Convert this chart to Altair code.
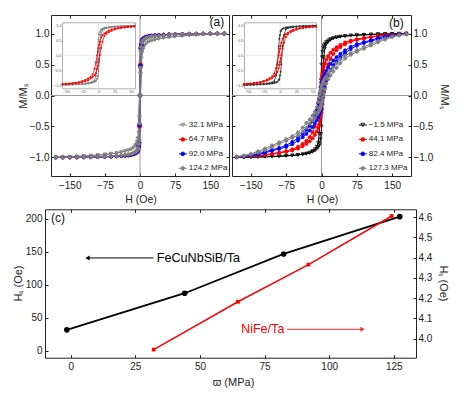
import altair as alt
import pandas as pd

FONT = "Liberation Sans"
W, HT = 447, 382  # drawing size (page minus the 8px margins)

# ---------------------------------------------------------------- data
# main loops: field sweep grid (Oe), M/Ms on descending and ascending branches
H_GRID = [180, 165, 150, 135, 120, 105, 90, 75, 62, 50, 40, 32, 25, 19, 14, 10, 7, 5, 3.5, 2, 1, 0,
          -1, -2, -3.5, -5, -7, -10, -14, -19, -25, -32, -40, -50, -62, -75, -90, -105, -120, -135,
          -150, -165, -180]

A_SERIES = ["32.1 MPa", "64.7 MPa", "92.0 MPa", "124.2 MPa"]
A_STROKE = ["#808080", "#ff0000", "#0000ff", "#808080"]
A_FILL = ["transparent", "#ff0000", "#0000ff", "#808080"]
A_SHAPE = ["triangle-down", "circle", "circle", "cross"]
A_DESC = [
    [0.998, 0.995, 0.99, 0.985, 0.978, 0.97, 0.962, 0.952, 0.942, 0.93, 0.915, 0.9, 0.886, 0.872, 0.85,
     0.815, 0.78, 0.745, 0.70, 0.62, 0.55, 0.35, 0.0, -0.35, -0.6, -0.69, -0.745, -0.8, -0.84, -0.867,
     -0.883, -0.898, -0.913, -0.928, -0.94, -0.951, -0.961, -0.969, -0.977, -0.984, -0.99, -0.995, -0.998],
    [1.0, 1.0, 0.999, 0.998, 0.997, 0.995, 0.993, 0.99, 0.986, 0.982, 0.977, 0.972, 0.967, 0.959, 0.95,
     0.938, 0.925, 0.91, 0.89, 0.84, 0.78, 0.5, 0.0, -0.5, -0.83, -0.885, -0.91, -0.93, -0.946, -0.957,
     -0.965, -0.971, -0.977, -0.982, -0.986, -0.99, -0.993, -0.995, -0.997, -0.998, -0.999, -1.0, -1.0],
    [1.0, 1.0, 0.999, 0.998, 0.996, 0.994, 0.992, 0.989, 0.985, 0.981, 0.976, 0.97, 0.965, 0.957, 0.947,
     0.935, 0.92, 0.905, 0.88, 0.82, 0.76, 0.48, 0.0, -0.48, -0.81, -0.875, -0.905, -0.928, -0.943, -0.955,
     -0.963, -0.969, -0.975, -0.98, -0.985, -0.989, -0.992, -0.994, -0.996, -0.998, -0.999, -1.0, -1.0],
    [1.0, 0.999, 0.998, 0.997, 0.995, 0.993, 0.99, 0.986, 0.981, 0.975, 0.968, 0.962, 0.955, 0.945, 0.933,
     0.918, 0.9, 0.88, 0.85, 0.78, 0.72, 0.45, 0.0, -0.45, -0.78, -0.86, -0.89, -0.912, -0.928, -0.941,
     -0.952, -0.96, -0.968, -0.975, -0.98, -0.986, -0.99, -0.993, -0.995, -0.997, -0.998, -0.999, -1.0],
]
A_ASC = [
    [0.998, 0.995, 0.99, 0.984, 0.977, 0.969, 0.961, 0.951, 0.94, 0.928, 0.913, 0.898, 0.883, 0.867, 0.84,
     0.8, 0.745, 0.69, 0.6, 0.35, 0.0, -0.35, -0.55, -0.62, -0.70, -0.745, -0.78, -0.815, -0.85, -0.872,
     -0.886, -0.9, -0.915, -0.93, -0.942, -0.952, -0.962, -0.97, -0.978, -0.985, -0.99, -0.995, -0.998],
    [1.0, 1.0, 0.999, 0.998, 0.997, 0.995, 0.993, 0.99, 0.986, 0.982, 0.977, 0.971, 0.965, 0.957, 0.946,
     0.93, 0.91, 0.885, 0.83, 0.5, 0.0, -0.5, -0.78, -0.84, -0.89, -0.91, -0.925, -0.938, -0.95, -0.959,
     -0.967, -0.972, -0.977, -0.982, -0.986, -0.99, -0.993, -0.995, -0.997, -0.998, -0.999, -1.0, -1.0],
    [1.0, 1.0, 0.999, 0.998, 0.996, 0.994, 0.992, 0.989, 0.985, 0.98, 0.975, 0.969, 0.963, 0.955, 0.943,
     0.928, 0.905, 0.875, 0.81, 0.48, 0.0, -0.48, -0.76, -0.82, -0.88, -0.905, -0.92, -0.935, -0.947, -0.957,
     -0.965, -0.97, -0.976, -0.981, -0.985, -0.989, -0.992, -0.994, -0.996, -0.998, -0.999, -1.0, -1.0],
    [1.0, 0.999, 0.998, 0.997, 0.995, 0.993, 0.99, 0.986, 0.98, 0.975, 0.968, 0.96, 0.952, 0.941, 0.928,
     0.912, 0.89, 0.86, 0.78, 0.45, 0.0, -0.45, -0.72, -0.78, -0.85, -0.88, -0.9, -0.918, -0.933, -0.945,
     -0.955, -0.962, -0.968, -0.975, -0.981, -0.986, -0.99, -0.993, -0.995, -0.997, -0.998, -0.999, -1.0],
]

B_SERIES = ["\u22121.5 MPa", "44.1 MPa", "82.4 MPa", "127.3 MPa"]
B_STROKE = ["#000000", "#ff0000", "#0000ff", "#808080"]
B_FILL = ["transparent", "#ff0000", "#0000ff", "#808080"]
B_SHAPE = ["triangle-down", "circle", "circle", "cross"]
B_DESC = [
    [1.0, 0.998, 0.996, 0.993, 0.99, 0.986, 0.981, 0.975, 0.969, 0.961, 0.952, 0.942, 0.929, 0.912, 0.892,
     0.865, 0.837, 0.81, 0.777, 0.707, 0.62, 0.5, 0.25, 0.0, -0.375, -0.62, -0.76, -0.827, -0.865, -0.895,
     -0.919, -0.936, -0.948, -0.958, -0.967, -0.974, -0.98, -0.985, -0.99, -0.993, -0.996, -0.998, -1.0],
    [0.997, 0.991, 0.984, 0.975, 0.963, 0.949, 0.93, 0.91, 0.888, 0.857, 0.818, 0.78, 0.739, 0.69, 0.636,
     0.58, 0.52, 0.47, 0.425, 0.365, 0.32, 0.27, 0.21, 0.14, 0.035, -0.07, -0.21, -0.365, -0.5, -0.594,
     -0.67, -0.731, -0.78, -0.827, -0.869, -0.897, -0.92, -0.94, -0.956, -0.969, -0.98, -0.988, -0.995],
    [0.996, 0.987, 0.974, 0.955, 0.928, 0.894, 0.863, 0.83, 0.786, 0.73, 0.674, 0.62, 0.564, 0.51, 0.456,
     0.4, 0.35, 0.31, 0.282, 0.24, 0.21, 0.17, 0.13, 0.09, 0.022, -0.045, -0.13, -0.24, -0.33, -0.414,
     -0.49, -0.556, -0.62, -0.686, -0.75, -0.804, -0.846, -0.877, -0.911, -0.942, -0.965, -0.981, -0.992],
    [0.992, 0.979, 0.957, 0.924, 0.882, 0.833, 0.783, 0.733, 0.685, 0.644, 0.584, 0.52, 0.454, 0.403, 0.36,
     0.31, 0.277, 0.243, 0.222, 0.188, 0.165, 0.135, 0.105, 0.07, 0.018, -0.035, -0.105, -0.188, -0.26, -0.322,
     -0.387, -0.446, -0.52, -0.596, -0.657, -0.705, -0.757, -0.807, -0.857, -0.903, -0.942, -0.969, -0.986],
]
B_ASC = [
    [1.0, 0.998, 0.996, 0.993, 0.99, 0.985, 0.98, 0.974, 0.967, 0.958, 0.948, 0.936, 0.919, 0.895, 0.865,
     0.827, 0.76, 0.62, 0.375, 0.0, -0.25, -0.5, -0.62, -0.707, -0.777, -0.81, -0.837, -0.865, -0.892, -0.912,
     -0.929, -0.942, -0.952, -0.961, -0.969, -0.975, -0.981, -0.986, -0.99, -0.993, -0.996, -0.998, -1.0],
    [0.995, 0.988, 0.98, 0.969, 0.956, 0.94, 0.92, 0.897, 0.869, 0.827, 0.78, 0.731, 0.67, 0.594, 0.5,
     0.365, 0.21, 0.07, -0.035, -0.14, -0.21, -0.27, -0.32, -0.365, -0.425, -0.47, -0.52, -0.58, -0.636, -0.69,
     -0.739, -0.78, -0.818, -0.857, -0.888, -0.91, -0.93, -0.949, -0.963, -0.975, -0.984, -0.991, -0.997],
    [0.992, 0.981, 0.965, 0.942, 0.911, 0.877, 0.846, 0.804, 0.75, 0.686, 0.62, 0.556, 0.49, 0.414, 0.33,
     0.24, 0.13, 0.045, -0.022, -0.09, -0.13, -0.17, -0.21, -0.24, -0.282, -0.31, -0.35, -0.4, -0.456, -0.51,
     -0.564, -0.62, -0.674, -0.73, -0.786, -0.83, -0.863, -0.894, -0.928, -0.955, -0.974, -0.987, -0.996],
    [0.986, 0.969, 0.942, 0.903, 0.857, 0.807, 0.757, 0.705, 0.657, 0.596, 0.52, 0.446, 0.387, 0.322, 0.26,
     0.188, 0.105, 0.035, -0.018, -0.07, -0.105, -0.135, -0.165, -0.188, -0.222, -0.243, -0.277, -0.31, -0.36,
     -0.403, -0.454, -0.52, -0.584, -0.644, -0.685, -0.733, -0.783, -0.833, -0.882, -0.924, -0.957, -0.979, -0.992],
]

# insets: zoom of the low-field region
INSET_H = [55, 50, 45, 40, 35, 30, 25, 20, 16, 12, 9, 6, 4, 2, 1, 0, -1, -2, -4, -6, -9, -12, -16, -20,
           -25, -30, -35, -40, -45, -50, -55]
IA_SERIES = ["gray loop", "red loop"]
IA_COLORS = ["#808080", "#ff0000"]
IA_DESC = [
    [0.984, 0.981, 0.978, 0.974, 0.969, 0.963, 0.956, 0.947, 0.939, 0.926, 0.91, 0.885, 0.86, 0.78, 0.69,
     0.525, 0.2, -0.2, -0.69, -0.83, -0.885, -0.905, -0.928, -0.941, -0.952, -0.96, -0.966, -0.972, -0.976,
     -0.979, -0.982],
    [0.965, 0.958, 0.949, 0.939, 0.926, 0.911, 0.89, 0.862, 0.83, 0.772, 0.727, 0.667, 0.6, 0.45, 0.345,
     0.24, 0.12, 0.0, -0.24, -0.45, -0.64, -0.72, -0.775, -0.82, -0.862, -0.895, -0.914, -0.929, -0.941,
     -0.951, -0.959],
]
IA_ASC = [
    [0.982, 0.979, 0.976, 0.972, 0.966, 0.96, 0.952, 0.941, 0.928, 0.905, 0.885, 0.83, 0.69, 0.2, -0.2,
     -0.525, -0.69, -0.78, -0.86, -0.885, -0.91, -0.926, -0.939, -0.947, -0.956, -0.963, -0.969, -0.974,
     -0.978, -0.981, -0.984],
    [0.959, 0.951, 0.941, 0.929, 0.914, 0.895, 0.862, 0.82, 0.775, 0.72, 0.64, 0.45, 0.24, 0.0, -0.12,
     -0.24, -0.345, -0.45, -0.6, -0.667, -0.727, -0.772, -0.83, -0.862, -0.89, -0.911, -0.926, -0.939,
     -0.949, -0.958, -0.965],
]
IB_SERIES = ["black loop", "red loop"]
IB_COLORS = ["#333333", "#ff0000"]
IB_DESC = [
    [0.988, 0.986, 0.983, 0.979, 0.975, 0.969, 0.964, 0.956, 0.948, 0.936, 0.925, 0.905, 0.882, 0.835, 0.8,
     0.675, 0.55, 0.3, -0.3, -0.675, -0.87, -0.905, -0.929, -0.943, -0.954, -0.963, -0.969, -0.974, -0.978,
     -0.982, -0.985],
    [0.962, 0.955, 0.946, 0.935, 0.921, 0.905, 0.882, 0.85, 0.81, 0.755, 0.7, 0.63, 0.56, 0.42, 0.32,
     0.22, 0.11, 0.0, -0.22, -0.42, -0.61, -0.7, -0.765, -0.81, -0.855, -0.89, -0.91, -0.926, -0.938,
     -0.948, -0.957],
]
IB_ASC = [
    [0.985, 0.982, 0.978, 0.974, 0.969, 0.963, 0.954, 0.943, 0.929, 0.905, 0.87, 0.675, 0.3, -0.3, -0.55,
     -0.675, -0.8, -0.835, -0.882, -0.905, -0.925, -0.936, -0.948, -0.956, -0.964, -0.969, -0.975, -0.979,
     -0.983, -0.986, -0.988],
    [0.957, 0.948, 0.938, 0.926, 0.91, 0.89, 0.855, 0.81, 0.765, 0.7, 0.61, 0.42, 0.22, 0.0, -0.11,
     -0.22, -0.32, -0.42, -0.56, -0.63, -0.7, -0.755, -0.81, -0.85, -0.882, -0.905, -0.921, -0.935,
     -0.946, -0.955, -0.962],
]

# panel (c): saturation field vs stress
FE_STRESS = [-1.5, 44.1, 82.4, 127.3]
FE_HS = [32, 87.5, 147, 203.5]
NI_STRESS = [32.1, 64.7, 92.0, 124.2]
NI_HS = [3.946, 4.182, 4.365, 4.605]

TICKS_H = [-150, -75, 0, 75, 150]
TICKS_M = [-1.0, -0.5, 0.0, 0.5, 1.0]
TICKS_IH = [-50, -25, 0, 25, 50]
TICKS_S = [0, 25, 50, 75, 100, 125]
TICKS_FE = [0, 50, 100, 150, 200]
TICKS_NI = [4.0, 4.1, 4.2, 4.3, 4.4, 4.5, 4.6]

# ---------------------------------------------------------------- layout (pixels in drawing)
XA, XB, YAB = [43, 221], [224, 403], [168, 7]
XIA, XIB, YI = [54, 127], [236, 308], [80.3, 14.3]
XC, YC = [37, 408], [349.7, 201.3]
DOM_H, DOM_M = [-190, 190], [-1.3, 1.3]
DOM_IHA, DOM_IHB, DOM_IM = [-56, 56], [-55, 55], [-1.1, 1.1]
DOM_S, DOM_FE, DOM_NI = [-9.95, 133.6], [-10.2, 214.7], [3.906, 4.638]
PT_SIZE = 10


def lin(domain, rng):
    return alt.Scale(domain=domain, range=rng, nice=False, zero=False)


def axis(orient, pos, labels=False, values=None, fmt=None, pad=2, title=None, tx=0, ty=0,
         domain=True, ticks=False, dcolor="#222222", lcolor="#222222", lsize=10, tsize=11, angle=None):
    if orient in ("left", "top"):
        offset = -pos
    elif orient == "right":
        offset = pos - W
    else:
        offset = pos - HT
    kw = dict(orient=orient, offset=offset, grid=False, labels=labels, ticks=ticks, domain=domain,
              domainColor=dcolor, domainWidth=1, tickColor=dcolor, labelColor=lcolor, labelFont=FONT,
              labelFontSize=lsize, labelPadding=pad, labelOverlap=False, labelFlush=False)
    if values is not None:
        kw["values"] = values
    if ticks:
        kw["tickSize"] = 3
        kw["tickWidth"] = 1
    if fmt:
        kw["format"] = fmt
    if title:
        kw.update(title=title, titleX=tx, titleY=ty, titleFont=FONT, titleFontSize=tsize,
                  titleFontWeight="normal", titleColor=lcolor, titleAlign="center", titleBaseline="middle")
        if angle is not None:
            kw["titleAngle"] = angle
    else:
        kw["title"] = None
    return alt.Axis(**kw)


def loops(hgrid, names, desc, asc):
    rows = []
    for s, name in enumerate(names):
        for br, vals in (("desc", desc[s]), ("asc", asc[s])):
            for i, (h, m) in enumerate(zip(hgrid, vals)):
                rows.append({"H": h, "M": m, "series": name, "branch": name + "|" + br, "i": i})
    return pd.DataFrame(rows)


def loop_panel(df, names, strokes, fills, shapes, sx, sy, ax_line_x, ax_line_y, ax_pt_x, ax_pt_y,
               ax_rule_x, ax_rule_y, ax_tag_x, ax_tag_y, tag, tag_pos, leg_x, leg_rows):
    cs = alt.Scale(domain=names, range=strokes)
    fs = alt.Scale(domain=names, range=fills)
    ss = alt.Scale(domain=names, range=shapes)
    zero = pd.DataFrame({"x": [DOM_H[0], 0], "x2": [DOM_H[1], 0], "y": [0, DOM_M[0]], "y2": [0, DOM_M[1]]})
    rules = alt.Chart(zero).mark_rule(color="#9a9a9a", strokeWidth=1).encode(
        x=alt.X("x:Q", scale=sx, axis=ax_rule_x), x2="x2:Q",
        y=alt.Y("y:Q", scale=sy, axis=ax_rule_y), y2="y2:Q")
    lines = alt.Chart(df).mark_line(strokeWidth=1).encode(
        x=alt.X("H:Q", scale=sx, axis=ax_line_x),
        y=alt.Y("M:Q", scale=sy, axis=ax_line_y),
        color=alt.Color("series:N", scale=cs, legend=None),
        detail="branch:N", order="i:Q")
    pts = alt.Chart(df).mark_point(size=PT_SIZE, strokeWidth=0.7, opacity=1).encode(
        x=alt.X("H:Q", scale=sx, axis=ax_pt_x),
        y=alt.Y("M:Q", scale=sy, axis=ax_pt_y),
        stroke=alt.Stroke("series:N", scale=cs, legend=None),
        fill=alt.Fill("series:N", scale=fs, legend=None),
        shape=alt.Shape("series:N", scale=ss, legend=None))
    tagc = alt.Chart(pd.DataFrame({"t": [tag]})).mark_text(font=FONT, fontSize=12, color="#111111").encode(
        x=alt.XDatum(tag_pos[0], scale=sx, axis=ax_tag_x),
        y=alt.YDatum(tag_pos[1], scale=sy, axis=ax_tag_y), text="t:N")
    leg = pd.DataFrame({"series": names})
    ly = alt.Y("series:N", scale=alt.Scale(type="point", domain=names, range=leg_rows, padding=0), axis=None)
    lrule = alt.Chart(leg).mark_rule(strokeWidth=1).encode(
        x=alt.value(leg_x - 4), x2=alt.value(leg_x + 4), y=ly,
        color=alt.Color("series:N", scale=cs, legend=None))
    lpt = alt.Chart(leg).mark_point(size=14, strokeWidth=0.8, opacity=1).encode(
        x=alt.value(leg_x), y=ly,
        stroke=alt.Stroke("series:N", scale=cs, legend=None),
        fill=alt.Fill("series:N", scale=fs, legend=None),
        shape=alt.Shape("series:N", scale=ss, legend=None))
    ltxt = alt.Chart(leg).mark_text(align="left", baseline="middle", font=FONT, fontSize=8,
                                    color="#222222").encode(
        x=alt.value(leg_x + 6), y=ly, text="series:N")
    return [rules, lines, pts, tagc, lrule, lpt, ltxt]


def inset(df, names, colors, sx, sy, left_px, right_px, bottom_px, top_px):
    cs = alt.Scale(domain=names, range=colors)
    zero = pd.DataFrame({"x": [sx.domain[0], 0], "x2": [sx.domain[1], 0],
                         "y": [0, DOM_IM[0]], "y2": [0, DOM_IM[1]]})
    rules = alt.Chart(zero).mark_rule(color="#e2e2e2", strokeWidth=0.8).encode(
        x=alt.X("x:Q", scale=sx, axis=axis("top", top_px, dcolor="#b0b0b0")), x2="x2:Q",
        y=alt.Y("y:Q", scale=sy, axis=axis("right", right_px, dcolor="#b0b0b0")), y2="y2:Q")
    lines = alt.Chart(df).mark_line(strokeWidth=0.8, point=alt.OverlayMarkDef(size=4, filled=True, opacity=1)).encode(
        x=alt.X("H:Q", scale=sx, axis=axis("bottom", bottom_px, labels=True, values=TICKS_IH, fmt="d", pad=1,
                                            dcolor="#b0b0b0", lcolor="#555555", lsize=4)),
        y=alt.Y("M:Q", scale=sy, axis=axis("left", left_px, labels=True, values=TICKS_M, fmt=".1f", pad=1,
                                            dcolor="#b0b0b0", lcolor="#555555", lsize=4)),
        color=alt.Color("series:N", scale=cs, legend=None),
        detail="branch:N", order="i:Q")
    return [rules, lines]


# ---------------------------------------------------------------- panel (a)
sxA, syA = lin(DOM_H, XA), lin(DOM_M, YAB)
panel_a = loop_panel(
    loops(H_GRID, A_SERIES, A_DESC, A_ASC), A_SERIES, A_STROKE, A_FILL, A_SHAPE, sxA, syA,
    axis("bottom", YAB[0], labels=True, values=TICKS_H, fmt="d", pad=4, title="H (Oe)", tx=132.5, ty=23, tsize=10.5),
    axis("left", XA[0], labels=True, values=TICKS_M, fmt=".1f", pad=2, title="M/M\u209b", tx=-28, ty=88, angle=270),
    axis("bottom", YAB[0] - 3, domain=False, ticks=True, values=TICKS_H),
    axis("left", XA[0] + 3, domain=False, ticks=True, values=TICKS_M),
    axis("top", YAB[1]), axis("right", XA[1]),
    axis("top", YAB[1] + 3, domain=False, ticks=True, values=TICKS_H),
    axis("right", XA[1] - 3, domain=False, ticks=True, values=TICKS_M),
    "(a)", (164, 1.18), 174.8, [117, 160.3])

# ---------------------------------------------------------------- panel (b)
sxB, syB = lin(DOM_H, XB), lin(DOM_M, YAB)
panel_b = loop_panel(
    loops(H_GRID, B_SERIES, B_DESC, B_ASC), B_SERIES, B_STROKE, B_FILL, B_SHAPE, sxB, syB,
    axis("bottom", YAB[0], labels=True, values=TICKS_H, fmt="d", pad=4, title="H (Oe)", tx=314, ty=23, tsize=10.5),
    axis("right", XB[1], labels=True, values=TICKS_M, fmt=".1f", pad=2, title="M/M\u209b", tx=32, ty=88, angle=90),
    axis("bottom", YAB[0] - 3, domain=False, ticks=True, values=TICKS_H),
    axis("right", XB[1] - 3, domain=False, ticks=True, values=TICKS_M),
    axis("top", YAB[1]), axis("left", XB[0]),
    axis("top", YAB[1] + 3, domain=False, ticks=True, values=TICKS_H),
    axis("left", XB[0] + 3, domain=False, ticks=True, values=TICKS_M),
    "(b)", (159, 1.17), 354.8, [117, 160.3])

# ---------------------------------------------------------------- insets
inset_a = inset(loops(INSET_H, IA_SERIES, IA_DESC, IA_ASC), IA_SERIES, IA_COLORS,
                lin(DOM_IHA, XIA), lin(DOM_IM, YI), XIA[0], XIA[1], YI[0], YI[1])
inset_b = inset(loops(INSET_H, IB_SERIES, IB_DESC, IB_ASC), IB_SERIES, IB_COLORS,
                lin(DOM_IHB, XIB), lin(DOM_IM, YI), XIB[0], XIB[1], YI[0], YI[1])

# ---------------------------------------------------------------- panel (c)
sxC, syFe, syNi = lin(DOM_S, XC), lin(DOM_FE, YC), lin(DOM_NI, YC)
df_fe = pd.DataFrame({"stress": FE_STRESS, "hs": FE_HS})
df_ni = pd.DataFrame({"stress": NI_STRESS, "hs": NI_HS})

c_fe = alt.Chart(df_fe).mark_line(color="#000000", strokeWidth=1.8,
                                  point=alt.OverlayMarkDef(filled=True, size=32, color="#000000", opacity=1)).encode(
    x=alt.X("stress:Q", scale=sxC, axis=axis("bottom", YC[0], labels=True, values=TICKS_S, fmt="d", pad=4,
                                              title="\u03d6 (MPa)", tx=225, ty=25)),
    y=alt.Y("hs:Q", scale=syFe, axis=axis("left", XC[0], labels=True, values=TICKS_FE, fmt="d", pad=3,
                                          title="H\u209b (Oe)", tx=-27, ty=275, angle=270)))
c_ni = alt.Chart(df_ni).mark_line(color="#ff0000", strokeWidth=1.5,
                                  point=alt.OverlayMarkDef(filled=True, shape="square", size=14, color="#ff0000",
                                                           opacity=1)).encode(
    x=alt.X("stress:Q", scale=sxC, axis=axis("top", YC[1])),
    y=alt.Y("hs:Q", scale=syNi, axis=axis("right", XC[1], labels=True, values=TICKS_NI, fmt=".1f", pad=2,
                                          title="H\u209b (Oe)", tx=26, ty=275, angle=90)))

one = pd.DataFrame({"t": ["FeCuNbSiB/Ta"]})
fe_arrow = alt.Chart(one).mark_rule(color="#000000", strokeWidth=1).encode(
    x=alt.XDatum(6.5, scale=sxC, axis=axis("bottom", YC[0] - 3, domain=False, ticks=True, values=TICKS_S)),
    x2=alt.X2Datum(32.0),
    y=alt.YDatum(141, scale=syFe, axis=axis("left", XC[0] + 3, domain=False, ticks=True, values=TICKS_FE)))
fe_head = alt.Chart(one).mark_point(shape="triangle-left", filled=True, size=24, color="#000000", opacity=1).encode(
    x=alt.XDatum(6.5, scale=sxC, axis=None), y=alt.YDatum(141, scale=syFe, axis=None))
fe_text = alt.Chart(one).mark_text(align="left", baseline="middle", font=FONT, fontSize=12.6,
                                   color="#000000").encode(
    x=alt.XDatum(33.3, scale=sxC, axis=None), y=alt.YDatum(141, scale=syFe, axis=None), text="t:N")

two = pd.DataFrame({"t": ["NiFe/Ta"]})
ni_arrow = alt.Chart(two).mark_rule(color="#ff3030", strokeWidth=1).encode(
    x=alt.XDatum(83.6, scale=sxC, axis=axis("top", YC[1] + 3, domain=False, ticks=True, values=TICKS_S)),
    x2=alt.X2Datum(112.9),
    y=alt.YDatum(4.046, scale=syNi, axis=axis("right", XC[1] - 3, domain=False, ticks=True, values=TICKS_NI)))
ni_head = alt.Chart(two).mark_point(shape="triangle-right", filled=True, size=24, color="#ff3030", opacity=1).encode(
    x=alt.XDatum(112.9, scale=sxC, axis=None), y=alt.YDatum(4.046, scale=syNi, axis=None))
ni_text = alt.Chart(two).mark_text(align="left", baseline="middle", font=FONT, fontSize=12.6,
                                   color="#ff0000").encode(
    x=alt.XDatum(65.9, scale=sxC, axis=None), y=alt.YDatum(4.046, scale=syNi, axis=None), text="t:N")

c_tag = alt.Chart(pd.DataFrame({"t": ["(c)"]})).mark_text(font=FONT, fontSize=12, color="#111111").encode(
    x=alt.XDatum(-4.9, scale=sxC, axis=None), y=alt.YDatum(201.5, scale=syFe, axis=None), text="t:N")

panel_c = [fe_arrow, ni_arrow, c_fe, c_ni, fe_head, ni_head, fe_text, ni_text, c_tag]

layers = panel_a + panel_b + inset_a + inset_b + panel_c

chart = alt.layer(*layers).resolve_scale(
    x="independent", y="independent", color="independent", fill="independent",
    stroke="independent", shape="independent"
).properties(
    width=W, height=HT, autosize=alt.AutoSizeParams(type="none"), padding=0
).configure_view(strokeWidth=0)

chart.save("out.html", embed_options={"renderer": "svg", "actions": False})
